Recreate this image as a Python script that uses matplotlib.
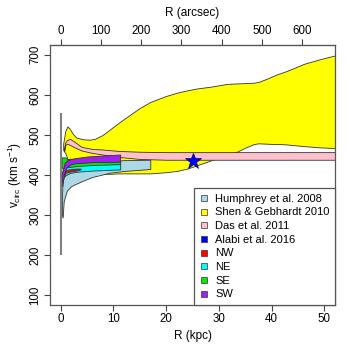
import matplotlib
matplotlib.use("Agg")
import matplotlib.pyplot as plt
from matplotlib.lines import Line2D
import numpy as np

plt.rcParams['font.family'] = ['Liberation Sans', 'DejaVu Sans']
plt.rcParams['mathtext.fontset'] = 'custom'
plt.rcParams['mathtext.rm'] = 'Liberation Sans'

# kpc per arcsec for the top axis
kpc_per_arcsec = 0.0763

# Shen & Gebhardt 2010
r_shen = [0.5, 0.9, 1.3, 1.7, 2.3, 3, 4.3, 5.5, 6.5, 8, 9.5, 11, 12.6, 15, 17,
          20, 22, 24, 26, 28.4, 31.5, 33.1, 35, 36.6, 37.5, 39.1, 41, 41.7, 43,
          46.1, 49, 52]
hi_shen = [478, 510, 521, 516, 503, 493, 489, 488, 490, 500, 515, 530, 545, 567,
           582, 597, 605, 611, 616, 620, 627, 628, 629, 630, 632, 640, 651, 654,
           660, 677, 688, 698]
lo_shen = [462, 455, 440, 428, 418, 410, 404, 402, 402, 403, 403, 404, 404, 404,
           404, 407, 410, 416, 425, 436, 450, 456, 468, 477, 479, 478, 477, 477,
           476, 472, 469, 467]

# Das et al. 2011
r_das = [0.7, 0.85, 1.2, 1.8, 2.5, 4, 6, 7.5, 11, 15, 20, 52]
hi_das = [468, 480, 487, 490, 484, 470, 465, 464, 460, 458, 457, 457]
lo_das = [460, 474, 478, 475, 470, 461, 455, 452, 445, 440, 438, 438]

# Humphrey et al. 2008
r_hum = [0.25, 0.4, 0.6, 1.2, 2, 2.75, 4.3, 6, 9.4, 12, 17]
hi_hum = [340, 390, 405, 415, 420, 423, 427, 430, 435, 437, 438]
lo_hum = [300, 294, 335, 361, 372, 377, 386, 395, 406, 410, 415]

# NE
r_ne = [0.3, 0.6, 1.0, 1.8, 3, 6, 11.3]
hi_ne = [405, 432, 438, 441, 436, 430, 427]
lo_ne = [385, 395, 400, 405, 408, 411, 414]

# NW
r_nw = [0.4, 1.0, 2.0, 3.0, 3.8]
hi_nw = [400, 412, 415, 416, 416]
lo_nw = [390, 406, 409, 411, 414]

# SE
r_se = [0.2, 0.9, 1.5, 3, 6, 11.3]
hi_se = [444, 444, 437, 435, 434, 434]
lo_se = [418, 418, 420, 422, 425, 427]

# SW
r_sw = [0.3, 0.6, 0.8, 1.2, 2, 2.75, 5, 6, 11.3]
hi_sw = [405, 420, 431, 436, 440, 442, 446, 447, 451]
lo_sw = [372, 395, 410, 420, 427, 429, 431, 432, 433]

# Alabi et al. 2016
r_alabi = [25.1]
v_alabi = [436]
err_alabi = [10]

# vertical grey line near centre
r_line = 0.05
v_line = [203, 552]

legend_labels = ['Humphrey et al. 2008', 'Shen & Gebhardt 2010', 'Das et al. 2011',
                 'Alabi et al. 2016', 'NW', 'NE', 'SE', 'SW']
legend_colors = ['lightblue', 'yellow', 'pink', 'blue', 'red', 'cyan', '#00ee00', '#a020f0']

fig = plt.figure(figsize=(3.5, 3.5), dpi=100)
ax = fig.add_axes([50 / 350, 45 / 350, 285 / 350, 260 / 350])

edge = dict(edgecolor='#333333', linewidth=0.6)
ax.fill_between(r_shen, lo_shen, hi_shen, facecolor='yellow', **edge)
ax.fill_between(r_das, lo_das, hi_das, facecolor='pink', **edge)
ax.fill_between(r_hum, lo_hum, hi_hum, facecolor='lightblue', **edge)
ax.fill_between(r_ne, lo_ne, hi_ne, facecolor='cyan', **edge)
ax.fill_between(r_nw, lo_nw, hi_nw, facecolor='red', **edge)
ax.fill_between(r_se, lo_se, hi_se, facecolor='#00ee00', **edge)
ax.fill_between(r_sw, lo_sw, hi_sw, facecolor='#a020f0', **edge)

ax.plot([r_line, r_line], v_line, color='grey', lw=1.5, zorder=1)

ax.errorbar(r_alabi, v_alabi, yerr=err_alabi, fmt='*', color='blue', ms=12,
            mec='#000066', mew=0.5, ecolor='blue', elinewidth=1.2, capsize=0)

ax.set_xlim(-2, 52)
ax.set_ylim(76, 724)
ax.set_xticks([0, 10, 20, 30, 40, 50])
ax.set_yticks([100, 200, 300, 400, 500, 600, 700])
ax.tick_params(direction='out', length=4, width=0.8, color='#444444',
               labelsize=8.3, pad=2)
plt.setp(ax.get_yticklabels(), rotation=90, va='center')
for s in ax.spines.values():
    s.set_color('#555555')
    s.set_linewidth(0.9)

ax.set_xlabel('R (kpc)', fontsize=8.5, labelpad=3)
ax.set_ylabel(r'v$_{\rm circ}$ (km s$^{-1}$)', fontsize=8.5, labelpad=4)

top = ax.secondary_xaxis('top', functions=(lambda k: k / kpc_per_arcsec,
                                           lambda a: a * kpc_per_arcsec))
top.set_xticks([0, 100, 200, 300, 400, 500, 600])
top.tick_params(direction='out', length=4, width=0.8, color='#444444',
                labelsize=8.3, pad=2)
top.spines['top'].set_color('#555555')
top.set_xlabel('R (arcsec)', fontsize=8.5, labelpad=6)

handles = [Line2D([0], [0], marker='s', ls='', markersize=4.5, markerfacecolor=c,
                  markeredgecolor='#333333', markeredgewidth=0.5) for c in legend_colors]
leg = ax.legend(handles, legend_labels, loc='lower right', bbox_to_anchor=(1, 0),
                borderaxespad=0, fontsize=8, frameon=True, fancybox=False,
                framealpha=1, handlelength=0.8, handletextpad=0.6,
                labelspacing=0.33, borderpad=0.5)
leg.get_frame().set_edgecolor('#555555')
leg.get_frame().set_linewidth(0.9)

plt.savefig('out.png', dpi=100)
